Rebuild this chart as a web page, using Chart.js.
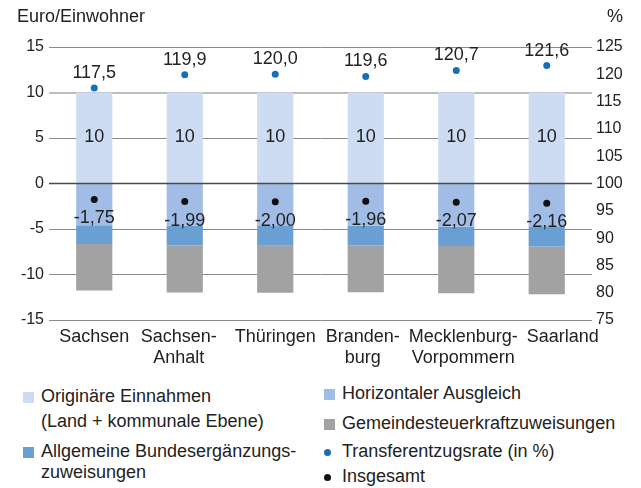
<!DOCTYPE html>
<html>
<head>
<meta charset="utf-8">
<script src="https://cdn.jsdelivr.net/npm/chart.js@4/dist/chart.umd.min.js"></script>
<style>
  body { margin: 0; background: #fff; font-family: "Liberation Sans", Arial, sans-serif; color: #222; }
  #wrap { position: relative; width: 641px; height: 488px; overflow: hidden; }
  #myChart { position: absolute; left: 0; top: 0; }
  .unit { position: absolute; font-size: 18px; line-height: 21px; top: 6px; }
  .leg { position: absolute; font-size: 18px; line-height: 21px; white-space: nowrap; }
  .sw { position: absolute; width: 11px; height: 11px; }
  .dot { position: absolute; width: 7px; height: 7px; border-radius: 50%; }
</style>
</head>
<body>
<div id="wrap">
  <canvas id="myChart" width="641" height="370"></canvas>
  <div class="unit" style="left:17px">Euro/Einwohner</div>
  <div class="unit" style="left:607px">%</div>
  <div id="legend"></div>
</div>
<script>
var categories = [['Sachsen'], ['Sachsen-', 'Anhalt'], ['Thüringen'], ['Branden-', 'burg'], ['Mecklenburg-', 'Vorpommern'], ['Saarland']];
var originaer = [10, 10, 10, 10, 10, 10];
var horizontal = [-4.60, -4.65, -4.67, -4.65, -4.75, -4.78];
var bez = [-2.05, -2.15, -2.17, -2.17, -2.13, -2.15];
var gemeinde = [-5.10, -5.19, -5.16, -5.14, -5.19, -5.23];
var insgesamt = [-1.75, -1.99, -2.00, -1.96, -2.07, -2.16];
var rate = [117.5, 119.9, 120.0, 119.6, 120.7, 121.6];

var font_family = '"Liberation Sans", Arial, sans-serif';
var tick_size = 16;
var label_size = 18;
// small sideways shift of the category names, as in the original layout
var label_shift = [0, -6, 0, -3, 7, 16];
var colors = {
    originaer: '#cddcf3',
    horizontal: '#a2bde5',
    bez: '#6a9fd4',
    gemeinde: '#a2a2a2',
    rate: '#1670b8',
    insgesamt: '#111111'
};

function fmt(v, d) {
    return v.toFixed(d).replace('.', ',');
}

// labels on the bars and points, category names, and the zero line on top of the bars
var labelPlugin = {
    id: 'labels',
    afterDatasetsDraw: function (chart) {
        var ctx = chart.ctx;
        var y = chart.scales.y;
        var x = chart.scales.x;
        var area = chart.chartArea;
        ctx.save();
        ctx.strokeStyle = '#4a4a4a';
        ctx.lineWidth = 1.5;
        ctx.beginPath();
        ctx.moveTo(area.left, y.getPixelForValue(0));
        ctx.lineTo(area.right, y.getPixelForValue(0));
        ctx.stroke();

        ctx.font = label_size + 'px ' + font_family;
        ctx.fillStyle = '#222';
        ctx.textAlign = 'center';
        ctx.textBaseline = 'middle';
        chart.getDatasetMeta(0).data.forEach(function (bar, i) {
            ctx.fillText(String(originaer[i]), bar.x, (bar.y + bar.base) / 2 - 1);
        });
        chart.getDatasetMeta(4).data.forEach(function (pt, i) {
            ctx.fillText(fmt(rate[i], 1), pt.x, pt.y - 15);
        });
        chart.getDatasetMeta(5).data.forEach(function (pt, i) {
            ctx.fillText(fmt(insgesamt[i], 2), pt.x, pt.y + 19);
        });

        ctx.textBaseline = 'alphabetic';
        categories.forEach(function (lines, i) {
            var cx = x.getPixelForValue(i) + label_shift[i];
            lines.forEach(function (t, k) {
                ctx.fillText(t, cx, area.bottom + 22 + k * 21);
            });
        });
        ctx.restore();
    }
};

function build_legend() {
    // baseline of each text line
    var items = [
        { x: 23, base: [402.5, 427.5], kind: 'sw', color: colors.originaer, text: ['Originäre Einnahmen', '(Land + kommunale Ebene)'] },
        { x: 23, base: [458, 478.5], kind: 'sw', color: colors.bez, text: ['Allgemeine Bundesergänzungs-', 'zuweisungen'] },
        { x: 324, base: [399.5], kind: 'sw', color: colors.horizontal, text: ['Horizontaler Ausgleich'] },
        { x: 324, base: [429.5], kind: 'sw', color: colors.gemeinde, text: ['Gemeindesteuerkraftzuweisungen'] },
        { x: 324, base: [458], kind: 'dot', color: colors.rate, text: ['Transferentzugsrate (in %)'] },
        { x: 324, base: [483], kind: 'dot', color: colors.insgesamt, text: ['Insgesamt'] }
    ];
    var html = '';
    items.forEach(function (it) {
        var b = Math.round(it.base[0]);
        if (it.kind == 'sw') {
            html += '<div class="sw" style="left:' + it.x + 'px;top:' + (b - 11) + 'px;background:' + it.color + '"></div>';
        } else {
            html += '<div class="dot" style="left:' + it.x + 'px;top:' + (b - 9) + 'px;background:' + it.color + '"></div>';
        }
        it.text.forEach(function (t, k) {
            html += '<div class="leg" style="left:' + (it.x + 18) + 'px;top:' + Math.round(it.base[k] - 17) + 'px">' + t + '</div>';
        });
    });
    document.getElementById('legend').innerHTML = html;
}

function chart_fig() {
    var ctx = document.getElementById('myChart').getContext('2d');
    var barOpts = { type: 'bar', yAxisID: 'y', stack: 's', barPercentage: 0.4, categoryPercentage: 1, borderWidth: 0, order: 2 };
    var dts = [
        Object.assign({ label: 'Originäre Einnahmen', data: originaer, backgroundColor: colors.originaer }, barOpts),
        Object.assign({ label: 'Horizontaler Ausgleich', data: horizontal, backgroundColor: colors.horizontal }, barOpts),
        Object.assign({ label: 'Allgemeine Bundesergänzungszuweisungen', data: bez, backgroundColor: colors.bez }, barOpts),
        Object.assign({ label: 'Gemeindesteuerkraftzuweisungen', data: gemeinde, backgroundColor: colors.gemeinde }, barOpts),
        {
            type: 'line', label: 'Transferentzugsrate (in %)', data: rate, yAxisID: 'y2', showLine: false,
            pointRadius: 3.5, pointBackgroundColor: colors.rate, pointBorderWidth: 0, order: 1
        },
        {
            type: 'line', label: 'Insgesamt', data: insgesamt, yAxisID: 'y', showLine: false,
            pointRadius: 3.5, pointBackgroundColor: colors.insgesamt, pointBorderWidth: 0, order: 1
        }
    ];
    var chartConfig = {
        data: { labels: categories, datasets: dts },
        options: {
            responsive: false,
            animation: false,
            layout: { padding: { top: 47, bottom: 0, left: 0, right: 0 } },
            scales: {
                x: {
                    stacked: true,
                    grid: { display: false, drawTicks: false },
                    border: { display: false },
                    ticks: { display: false },
                    afterFit: function (s) { s.height = 50; }
                },
                y: {
                    stacked: true,
                    position: 'left',
                    min: -15, max: 15,
                    ticks: { stepSize: 5, color: '#222', padding: 5, font: { family: font_family, size: tick_size } },
                    grid: {
                        drawTicks: false,
                        color: function (c) { return c.tick.value == 10 ? '#bdbdbd' : (c.tick.value == 0 ? 'rgba(0,0,0,0)' : '#8a8a8a'); },
                        lineWidth: function (c) { return c.tick.value == 10 ? 2 : 1; }
                    },
                    border: { display: false },
                    afterFit: function (s) { s.width = 49; }
                },
                y2: {
                    position: 'right',
                    min: 75, max: 125,
                    ticks: { stepSize: 5, color: '#222', padding: 4, font: { family: font_family, size: tick_size } },
                    grid: { display: false, drawTicks: false },
                    border: { display: false },
                    afterFit: function (s) { s.width = 49; }
                }
            },
            plugins: {
                legend: { display: false },
                tooltip: { enabled: false }
            }
        },
        plugins: [labelPlugin]
    };
    return new Chart(ctx, chartConfig);
}

build_legend();
var chart = chart_fig();
</script>
</body>
</html>
